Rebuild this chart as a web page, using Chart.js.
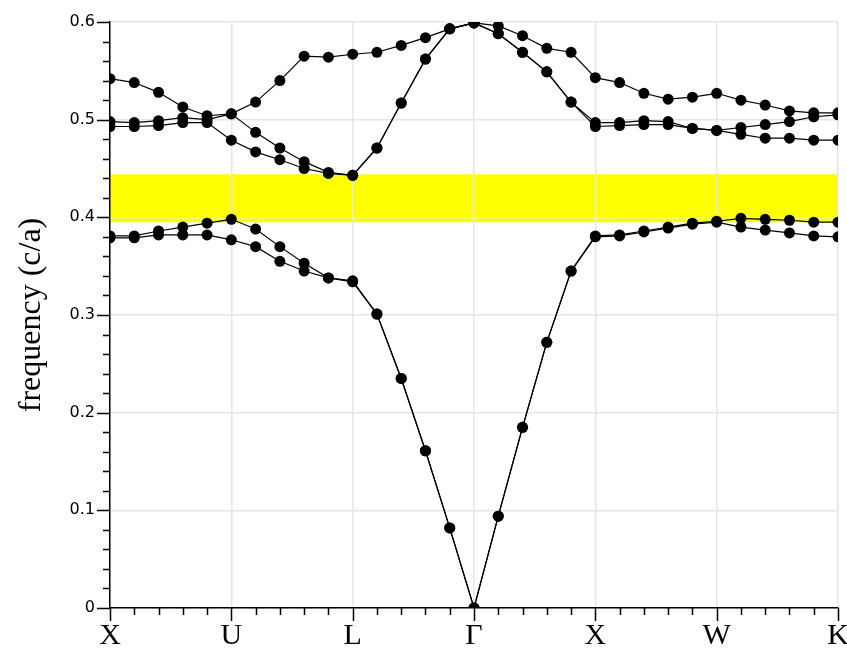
<!DOCTYPE html>
<html>
<head>
<meta charset="utf-8">
<script src="https://cdn.jsdelivr.net/npm/chart.js@4.4.0/dist/chart.umd.min.js"></script>
<style>
  html, body { margin: 0; padding: 0; background: #fff; }
</style>
</head>
<body>
<canvas id="bands" width="847" height="656"></canvas>
<script>
// symmetry points, one every 5 k-steps (31 k-points in total)
const kPoints = ['X', 'U', 'L', 'Γ', 'X', 'W', 'K'];

// band frequencies (c/a)
const band1 = [0.379, 0.379, 0.382, 0.382, 0.382, 0.377, 0.370, 0.355, 0.345, 0.338, 0.334,
               0.301, 0.235, 0.161, 0.082, 0.000, 0.094, 0.185, 0.272, 0.345, 0.380,
               0.381, 0.385, 0.389, 0.393, 0.395, 0.390, 0.387, 0.384, 0.381, 0.380];
const band2 = [0.381, 0.381, 0.386, 0.390, 0.394, 0.398, 0.388, 0.370, 0.353, 0.338, 0.335,
               0.301, 0.235, 0.161, 0.082, 0.000, 0.094, 0.185, 0.272, 0.345, 0.381,
               0.382, 0.386, 0.390, 0.394, 0.396, 0.399, 0.398, 0.397, 0.395, 0.395];
const band3 = [0.493, 0.493, 0.494, 0.497, 0.497, 0.479, 0.467, 0.459, 0.450, 0.445, 0.443,
               0.471, 0.517, 0.562, 0.593, 0.599, 0.588, 0.569, 0.549, 0.518, 0.493,
               0.494, 0.495, 0.495, 0.491, 0.489, 0.485, 0.481, 0.481, 0.479, 0.479];
const band4 = [0.498, 0.497, 0.499, 0.502, 0.500, 0.506, 0.487, 0.471, 0.457, 0.446, 0.443,
               0.471, 0.517, 0.562, 0.593, 0.599, 0.588, 0.569, 0.549, 0.518, 0.497,
               0.497, 0.499, 0.498, 0.491, 0.489, 0.492, 0.495, 0.498, 0.503, 0.505];
const band5 = [0.542, 0.538, 0.528, 0.513, 0.504, 0.506, 0.518, 0.540, 0.565, 0.564, 0.567,
               0.569, 0.576, 0.584, 0.593, 0.599, 0.596, 0.586, 0.573, 0.569, 0.543,
               0.538, 0.527, 0.521, 0.523, 0.527, 0.520, 0.515, 0.509, 0.507, 0.507];

// photonic band gap (lower, upper edge)
const gapEdges = [0.395, 0.444];

const allBands = [band1, band2, band3, band4, band5];

function isMajorY(v) { return Math.round(v * 50) % 5 === 0; }
function isMajorX(v) { return Math.round(v) % 5 === 0; }

// yellow gap strip, painted before the grid so grid lines show over it
const gapPlugin = {
  id: 'gap',
  beforeDraw(chart) {
    const { ctx, scales: { x, y } } = chart;
    const top = y.getPixelForValue(gapEdges[1]);
    const bot = y.getPixelForValue(gapEdges[0]);
    ctx.save();
    ctx.fillStyle = '#ffff00';
    ctx.fillRect(x.left, top, x.right - x.left, bot - top);
    ctx.restore();
  }
};

// long ticks on the labelled values, short ones in between
const tickPlugin = {
  id: 'ticks',
  afterDraw(chart) {
    const { ctx, scales: { x, y } } = chart;
    ctx.save();
    ctx.strokeStyle = '#000';
    ctx.lineWidth = 1.5;
    ctx.beginPath();
    x.ticks.forEach(t => {
      const px = Math.round(x.getPixelForValue(t.value)) + 0.5;
      const len = isMajorX(t.value) ? 13 : 7;
      ctx.moveTo(px, y.bottom);
      ctx.lineTo(px, y.bottom + len);
    });
    y.ticks.forEach(t => {
      const py = Math.round(y.getPixelForValue(t.value)) + 0.5;
      const len = isMajorY(t.value) ? 13 : 7;
      ctx.moveTo(x.left, py);
      ctx.lineTo(x.left - len, py);
    });
    ctx.stroke();
    ctx.restore();
  }
};

const datasets = allBands.map(b => ({
  data: b.map((v, i) => ({ x: i, y: v })),
  borderColor: '#000',
  borderWidth: 1.2,
  backgroundColor: '#000',
  pointRadius: 5.5,
  pointBorderWidth: 0,
  pointBackgroundColor: '#000',
  tension: 0
}));

new Chart(document.getElementById('bands'), {
  type: 'line',
  data: { datasets: datasets },
  plugins: [gapPlugin, tickPlugin],
  options: {
    responsive: false,
    animation: false,
    layout: { padding: { top: 22, right: 9, left: 0, bottom: 0 } },
    plugins: { legend: { display: false }, tooltip: { enabled: false } },
    scales: {
      x: {
        type: 'linear',
        min: 0, max: 30,
        afterFit: s => { s.height = 48; s.paddingLeft = 0; s.paddingRight = 0; },
        ticks: {
          stepSize: 1, autoSkip: false, maxRotation: 0, padding: 10,
          color: '#000',
          font: { family: 'Liberation Serif', size: 30 },
          callback: v => isMajorX(v) ? kPoints[Math.round(v) / 5] : ''
        },
        grid: {
          drawTicks: false,
          color: c => isMajorX(c.tick.value) ? '#e6e6e6' : 'transparent',
          lineWidth: 1.5
        },
        border: { color: '#000', width: 1.5 }
      },
      y: {
        min: 0, max: 0.6,
        afterFit: s => { s.width = 110; s.paddingTop = 0; s.paddingBottom = 0; },
        ticks: {
          stepSize: 0.02, autoSkip: false, padding: 15,
          color: '#000',
          font: { family: 'DejaVu Sans', size: 16 },
          callback: v => {
            if (!isMajorY(v)) return '';
            const r = Math.round(v * 10);
            return r === 0 ? '0' : (r / 10).toFixed(1);
          }
        },
        grid: {
          drawTicks: false,
          color: c => isMajorY(c.tick.value) ? '#e6e6e6' : 'transparent',
          lineWidth: 1.5
        },
        border: { color: '#000', width: 1.5 },
        title: {
          display: true,
          text: 'frequency (c/a)',
          color: '#000',
          font: { family: 'Liberation Serif', size: 32 },
          padding: { top: 12, bottom: 0 }
        }
      }
    }
  }
});
</script>
</body>
</html>
